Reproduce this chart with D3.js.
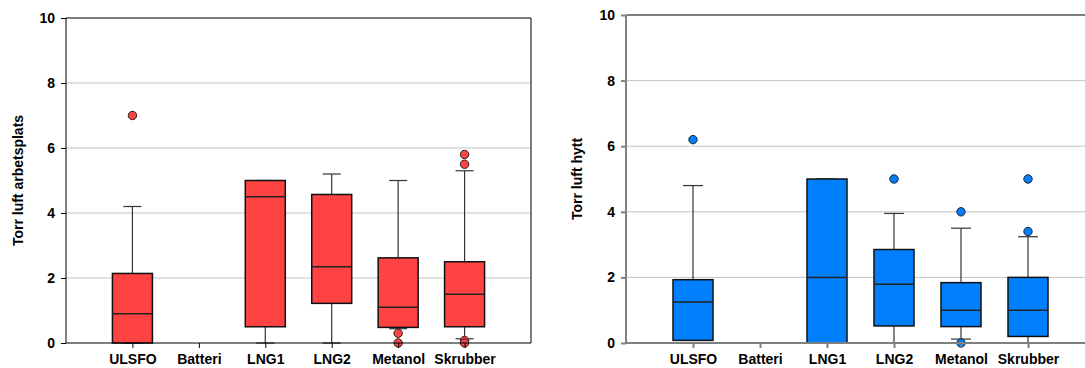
<!DOCTYPE html>
<html>
<head>
<meta charset="utf-8">
<script src="https://cdn.jsdelivr.net/npm/d3@7"></script>
<style>
  html, body { margin: 0; padding: 0; background: #fff; }
  svg { display: block; }
  text { font-family: "Liberation Sans", Arial, sans-serif; font-weight: bold; fill: #000; }
</style>
</head>
<body>
<svg id="chart" width="1085" height="368"></svg>
<script>
// Fuel categories shared by both panels
const categories = ["ULSFO", "Batteri", "LNG1", "LNG2", "Metanol", "Skrubber"];
const yTicks = [0, 2, 4, 6, 8, 10];

// Torr luft arbetsplats (workplace)
const workQ1      = [0,    null, 0.5,  1.22, 0.48, 0.5];
const workMedian  = [0.9,  null, 4.5,  2.35, 1.1,  1.5];
const workQ3      = [2.14, null, 5.0,  4.57, 2.62, 2.5];
const workLow     = [0,    null, 0,    0,    0.44, 0.13];
const workHigh    = [4.2,  null, 5.0,  5.2,  5.0,  5.3];
const workOutliers = [[7.0], [], [], [], [0.3, 0.0], [5.8, 5.5, 0.08, 0.0]];

// Torr luft hytt (cabin)
const cabinQ1      = [0.08, null, 0,   0.52, 0.5,  0.2];
const cabinMedian  = [1.25, null, 2.0, 1.79, 1.0,  1.0];
const cabinQ3      = [1.93, null, 5.0, 2.85, 1.84, 2.0];
const cabinLow     = [0.08, null, 0,   0,    0.12, 0];
const cabinHigh    = [4.8,  null, 5.0, 3.95, 3.5,  3.24];
const cabinOutliers = [[6.2], [], [], [5.0], [4.0, 0.0], [5.0, 3.4]];

const svg = d3.select("#chart");

function drawPanel(opt) {
  const g = svg.append("g");
  const x = d3.scalePoint().domain(categories).range([opt.left, opt.right]).padding(1);
  const y = d3.scaleLinear().domain([0, 10]).range([opt.bottom, opt.top]);

  // horizontal grid lines
  g.append("g")
    .selectAll("line")
    .data(yTicks.filter(t => t > 0 && t < 10))
    .join("line")
    .attr("x1", opt.left).attr("x2", opt.right)
    .attr("y1", d => y(d)).attr("y2", d => y(d))
    .attr("stroke", "#c4c4c4").attr("stroke-width", 1);

  // boxes
  const rows = categories.map((c, i) => ({
    c, q1: opt.q1[i], med: opt.median[i], q3: opt.q3[i],
    lo: opt.low[i], hi: opt.high[i], out: opt.outliers[i]
  }));
  const bw = opt.boxWidth, cap = opt.capWidth;
  const boxes = g.append("g").selectAll("g").data(rows.filter(r => r.q1 !== null)).join("g");

  // whiskers
  boxes.append("line")
    .attr("x1", d => x(d.c)).attr("x2", d => x(d.c))
    .attr("y1", d => y(d.q3)).attr("y2", d => y(d.hi))
    .attr("stroke", "#333").attr("stroke-width", 1.2);
  boxes.append("line")
    .attr("x1", d => x(d.c)).attr("x2", d => x(d.c))
    .attr("y1", d => y(d.q1)).attr("y2", d => y(d.lo))
    .attr("stroke", "#333").attr("stroke-width", 1.2);
  boxes.append("line")
    .attr("x1", d => x(d.c) - cap / 2).attr("x2", d => x(d.c) + cap / 2)
    .attr("y1", d => y(d.hi)).attr("y2", d => y(d.hi))
    .attr("stroke", "#333").attr("stroke-width", 1.2);
  boxes.append("line")
    .attr("x1", d => x(d.c) - cap / 2).attr("x2", d => x(d.c) + cap / 2)
    .attr("y1", d => y(d.lo)).attr("y2", d => y(d.lo))
    .attr("stroke", "#333").attr("stroke-width", 1.2);

  boxes.append("rect")
    .attr("x", d => x(d.c) - bw / 2).attr("width", bw)
    .attr("y", d => y(d.q3)).attr("height", d => y(d.q1) - y(d.q3))
    .attr("fill", opt.color).attr("stroke", "#111").attr("stroke-width", 1.5);
  boxes.append("line")
    .attr("x1", d => x(d.c) - bw / 2).attr("x2", d => x(d.c) + bw / 2)
    .attr("y1", d => y(d.med)).attr("y2", d => y(d.med))
    .attr("stroke", "#222").attr("stroke-width", 1.5);

  // outliers
  const pts = rows.flatMap(r => r.out.map(v => ({ c: r.c, v })));
  g.append("g").selectAll("circle").data(pts).join("circle")
    .attr("cx", d => x(d.c)).attr("cy", d => y(d.v)).attr("r", 4.2)
    .attr("fill", opt.color).attr("stroke", "#222").attr("stroke-width", 1);

  // frame
  const frame = g.append("g").attr("stroke", opt.axisColor).attr("stroke-width", opt.axisWidth).attr("fill", "none");
  frame.append("line").attr("x1", opt.left).attr("x2", opt.right).attr("y1", opt.top).attr("y2", opt.top);
  frame.append("line").attr("x1", opt.left).attr("x2", opt.right).attr("y1", opt.bottom).attr("y2", opt.bottom);
  frame.append("line").attr("x1", opt.left).attr("x2", opt.left).attr("y1", opt.top).attr("y2", opt.bottom);
  frame.append("line").attr("x1", opt.right).attr("x2", opt.right).attr("y1", opt.top).attr("y2", opt.bottom);

  // y axis
  const ya = g.append("g").attr("transform", `translate(${opt.left},0)`)
    .call(d3.axisLeft(y).tickValues(yTicks).tickSize(5).tickPadding(6).tickFormat(d3.format("d")));
  ya.select(".domain").remove();
  ya.selectAll(".tick line").attr("stroke", opt.axisColor).attr("stroke-width", opt.axisWidth);
  ya.selectAll(".tick text").attr("font-size", 14).attr("font-family", null).attr("fill", "#000");

  // x axis
  const xa = g.append("g").attr("transform", `translate(0,${opt.bottom})`)
    .call(d3.axisBottom(x).tickSize(5).tickPadding(6));
  xa.select(".domain").remove();
  xa.selectAll(".tick line").attr("stroke", opt.axisColor).attr("stroke-width", opt.axisWidth);
  xa.selectAll(".tick text").attr("font-size", 14).attr("font-family", null).attr("fill", "#000");

  // y title
  g.append("text")
    .attr("transform", `translate(${opt.titleX},${(opt.top + opt.bottom) / 2}) rotate(-90)`)
    .attr("text-anchor", "middle").attr("font-size", 14)
    .text(opt.title);
}

drawPanel({
  left: 66, right: 531, top: 18, bottom: 343,
  q1: workQ1, median: workMedian, q3: workQ3, low: workLow, high: workHigh, outliers: workOutliers,
  color: "#ff4242", axisColor: "#000", axisWidth: 1, boxWidth: 40, capWidth: 18,
  title: "Torr luft arbetsplats", titleX: 23
});

drawPanel({
  left: 626, right: 1095, top: 15, bottom: 343,
  q1: cabinQ1, median: cabinMedian, q3: cabinQ3, low: cabinLow, high: cabinHigh, outliers: cabinOutliers,
  color: "#0080ff", axisColor: "#808080", axisWidth: 2, boxWidth: 40, capWidth: 20,
  title: "Torr luft hytt", titleX: 582
});
</script>
</body>
</html>
